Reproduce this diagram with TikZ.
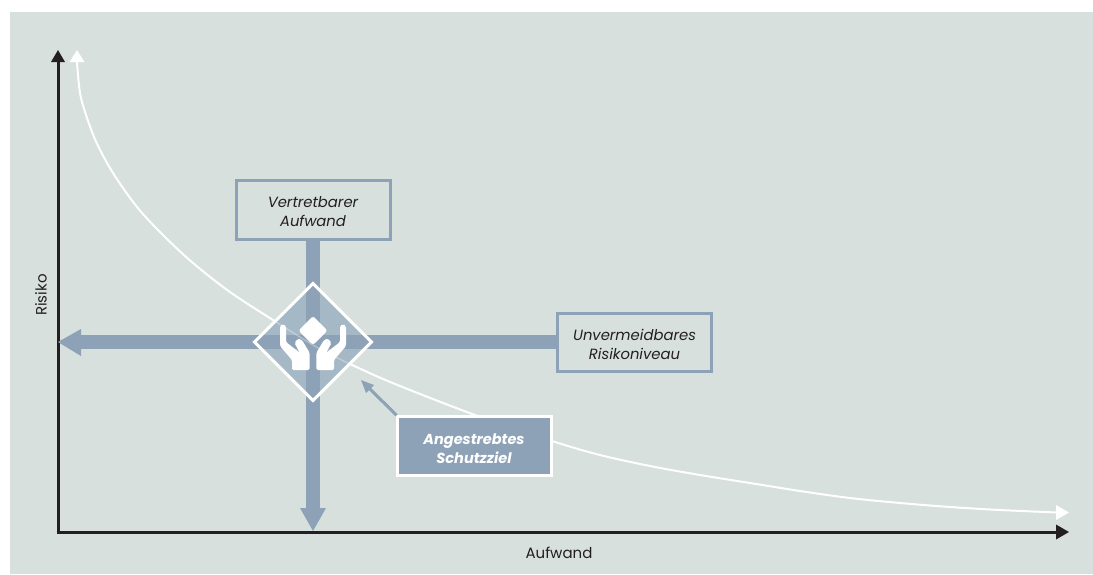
\documentclass[tikz,border=0pt]{standalone}
\usepackage{fontspec}
\setmainfont{Poppins}
\usetikzlibrary{arrows.meta}
\definecolor{bgc}{HTML}{D7E0DD}
\definecolor{ink}{HTML}{231F20}
\definecolor{steel}{HTML}{8DA2B6}
\definecolor{pale}{HTML}{A5B8C5}
\newcommand{\lowered}[2]{\raisebox{-#1}[\height][\depth]{#2}}
\tikzset{
  x=1pt,y=-1pt,
  axisline/.style={ink,line width=3pt},
  curveline/.style={white,line width=2pt},
  bar/.style={steel,line width=14pt},
  labelbox/.style={draw=steel,fill=bgc,line width=3pt,minimum width=154pt,minimum height=58.5pt,inner sep=0pt,align=center,font=\fontsize{14.8}{19}\selectfont\itshape,text=ink},
  goalbox/.style={labelbox,draw=white,fill=steel,text=white,font=\fontsize{14.5}{19}\selectfont\itshape\bfseries},
  axislabel/.style={font=\fontsize{15}{18}\selectfont,text=ink,inner sep=0pt},
}
\def\curvepath{plot[smooth,tension=.55] coordinates {(77,62) (80,93) (86.7,117) (96.7,143) (113,173) (137,207) (163,235) (193,263) (230,292) (273,320) (320,349) (363,370) (400,386) (475,415) (552,441) (600,455) (650,466) (700,475) (750,483) (800,491) (850,498) (900,503) (950,507) (1000,510) (1057,512.5)}}
\begin{document}
\begin{tikzpicture}
\useasboundingbox (0,0) rectangle (1093,574);
\fill[white] (0,0) rectangle (1093,574);
\fill[bgc] (10,12) rectangle (1093,574);
% axes
\coordinate (origin) at (58,532);
\coordinate (ytop) at (58,62);
\coordinate (xend) at (1056,532);
\draw[axisline] (58,533.5) -- (ytop);
\draw[axisline] (56.5,532) -- (xend);
\fill[ink] (58,50) -- (65,62) -- (51,62) -- cycle;
\fill[ink] (1069,532) -- (1056,524.5) -- (1056,539.5) -- cycle;
% white curve
\draw[curveline] \curvepath;
\fill[white] (77,50) -- (84.5,62) -- (69.5,62) -- cycle;
\fill[white] (1069,512.5) -- (1056,505) -- (1056,520) -- cycle;
% bars
\coordinate (c) at (313,342);
\draw[bar] (313,240) -- (313,509);
\draw[bar] (557,342) -- (80,342);
\fill[steel] (313,531) -- (300,508) -- (326,508) -- cycle;
\fill[steel] (58,342) -- (81,329) -- (81,356) -- cycle;
% diamond
\fill[pale] (313,282) -- (373,342) -- (313,402) -- (253,342) -- cycle;
\begin{scope}
\clip (313,282) -- (373,342) -- (313,402) -- (253,342) -- cycle;
\draw[bar] (313,282) -- (313,402);
\draw[bar] (253,342) -- (373,342);
\draw[white,opacity=.3,line width=1.5pt] \curvepath;
\end{scope}
\draw[white,line width=3pt,line join=miter] (313,283.5) -- (371.5,342) -- (313,400.5) -- (254.5,342) -- cycle;
% icon
\fill[white,rounded corners=2.5pt] (313,316) -- (327.5,330.5) -- (313,345) -- (298.5,330.5) -- cycle;
\foreach \s in {1,-1}{
\begin{scope}[shift={(313,0)},xscale=\s]
\fill[white,rounded corners=1.5pt]
 (-3.3,370) -- (-21,370) -- (-21,360) -- (-33,346) -- (-33,326) -- (-30,324) -- (-27,326) -- (-27,342)
 -- (-13,353) -- (-18.5,343) -- (-15,338.5) -- (-11,340) -- (-3.3,353) -- cycle;
\end{scope}}
% boxes
\node[labelbox] (top) at (313,210) {\lowered{2pt}{Vertretbarer}\\\lowered{2pt}{Aufwand}};
\node[labelbox] (right) at (634.5,342.5) {\lowered{2pt}{Unvermeidbares}\\\lowered{2pt}{Risikoniveau}};
\coordinate (goaltip) at (361,380);
\node[goalbox] (goal) at (474,446) {\lowered{3pt}{Angestrebtes}\\\lowered{3pt}{Schutzziel}};
\coordinate (goalcorner) at (goal.north west);
\draw[steel,line width=3pt] (goalcorner) ++(1,0) -- (368,387);
\fill[steel] (goaltip) -- (374,385) -- (366,393) -- cycle;
% axis labels
\node[axislabel] (xl) at (559,553) {Aufwand};
\node[axislabel,rotate=90] (yl) at (41,295) {Risiko};
\end{tikzpicture}
\end{document}
